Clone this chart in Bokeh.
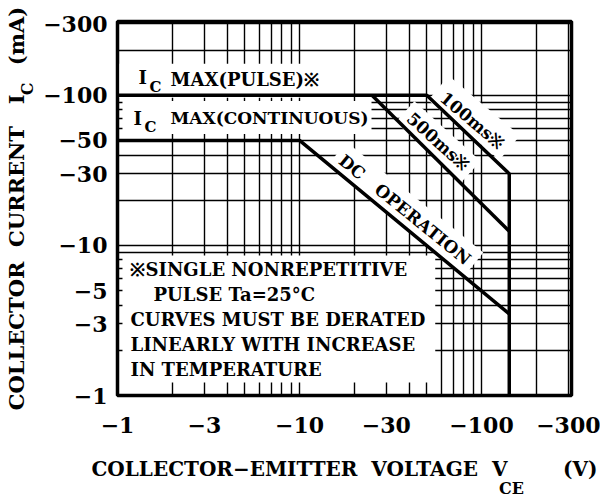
import math
from bokeh.plotting import figure
from bokeh.models import FixedTicker, Range1d, LogAxis
from bokeh.core.properties import value
from bokeh.embed import file_html
from bokeh.resources import INLINE

# ---------------- data ----------------
x_ticks = [1, 3, 10, 30, 100, 300]
x_tick_labels = ["−1", "−3", "−10", "−30", "−100", "−300"]
y_ticks = [1, 3, 5, 10, 30, 50, 100, 300]
y_tick_labels = ["−1", "−3", "−5", "−10", "−30", "−50", "−100", "−300"]
grid_x = [1, 2, 3, 4, 5, 6, 7, 8, 9, 10, 20, 30, 40, 50, 60, 70, 80, 90, 100, 200, 300]
grid_y = [1, 2, 3, 4, 5, 6, 7, 8, 9, 10, 20, 30, 40, 50, 60, 70, 80, 90, 100, 200, 300]

# safe operating area curves, |VCE| (V) vs |IC| (mA)
pulse100_v = [1, 50, 142, 142]
pulse100_i = [100, 100, 30, 1]
pulse500_v = [25, 142]
pulse500_i = [100, 12.4]
dc_v = [1, 10, 142]
dc_i = [50, 50, 3.5]

NB = "\u00a0"
x_title = "COLLECTOR−EMITTER" + NB * 2 + "VOLTAGE" + NB * 2 + "V" + NB * 8 + "(V)"
y_title = "COLLECTOR" + NB * 2 + "CURRENT" + NB * 3 + "I" + NB * 4 + "(mA)"
x_sub, x_sub_pos = "CE", 146.0
y_sub, y_sub_pos = "C", 121.7

FONT = "DejaVu Serif"

p = figure(width=600, height=500, x_axis_type="log", y_axis_type="log",
           x_range=Range1d(1, 312), y_range=Range1d(1, 310),
           output_backend="svg", toolbar_location=None,
           min_border_left=117, min_border_right=29,
           min_border_top=21, min_border_bottom=105)
p.background_fill_color = "white"
p.border_fill_color = "white"
p.outline_line_color = "black"
p.outline_line_width = 3.5

def style_axis(ax, size="22px"):
    ax.axis_line_color = None
    ax.major_tick_line_color = None
    ax.minor_tick_line_color = None
    ax.major_tick_in = 0
    ax.major_tick_out = 0
    ax.minor_tick_in = 0
    ax.minor_tick_out = 0
    ax.major_label_text_font = FONT
    ax.major_label_text_font_style = "bold"
    ax.major_label_text_font_size = size
    ax.major_label_text_color = "black"
    ax.axis_label_text_font = FONT
    ax.axis_label_text_font_style = "bold"
    ax.axis_label_text_color = "black"

for ax in (p.xaxis[0], p.yaxis[0]):
    style_axis(ax)

p.xaxis.ticker = FixedTicker(ticks=x_ticks)
p.xaxis.major_label_overrides = {t: l for t, l in zip(x_ticks, x_tick_labels)}
p.yaxis.ticker = FixedTicker(ticks=y_ticks)
p.yaxis.major_label_overrides = {t: l for t, l in zip(y_ticks, y_tick_labels)}
p.xaxis.major_label_standoff = 21
p.yaxis.major_label_standoff = 10
p.xaxis.axis_label = x_title
p.yaxis.axis_label = y_title
p.xaxis.axis_label_text_font_size = "20px"
p.yaxis.axis_label_text_font_size = "21px"
p.xaxis.axis_label_standoff = 21
p.yaxis.axis_label_standoff = 11

# subscript axes (only carry the subscript text)
xs = LogAxis(ticker=FixedTicker(ticks=[x_sub_pos]),
             major_label_overrides={x_sub_pos: x_sub},
             major_label_standoff=-5)
style_axis(xs, "16px")
p.add_layout(xs, "below")
ys = LogAxis(ticker=FixedTicker(ticks=[y_sub_pos]),
             major_label_overrides={y_sub_pos: y_sub},
             major_label_standoff=-26, major_label_orientation=math.pi / 2)
style_axis(ys, "16px")
p.add_layout(ys, "left")

p.xgrid.ticker = FixedTicker(ticks=grid_x)
p.ygrid.ticker = FixedTicker(ticks=grid_y)
for g in (p.xgrid, p.ygrid):
    g.grid_line_color = "black"
    g.grid_line_width = 1.4
    g.grid_line_alpha = 1.0

txt = dict(text_font=value(FONT), text_font_style="bold", text_color="black")

# ---- white-backed labels (drawn before the curves) ----
p.text(x=[1.026], y=[125.0], text=["MAX(PULSE)※"], text_font_size="18px",
       text_baseline="middle", text_align="left",
       background_fill_color="white",
       padding=dict(left=51, right=16, top=5, bottom=8), **txt)
p.text(x=[1.065], y=[71.2], text=["MAX(CONTINUOUS)"], text_font_size="17px",
       text_baseline="middle", text_align="left",
       background_fill_color="white",
       padding=dict(left=48, right=3, top=7, bottom=6), **txt)
p.text(x=[1.304], y=[130.4], text=["I"], text_font_size="18px",
       text_baseline="middle", **txt)
p.text(x=[1.499], y=[114.0], text=["C"], text_font_size="15px",
       text_baseline="middle", **txt)
p.text(x=[1.224], y=[70.1], text=["I"], text_font_size="18px",
       text_baseline="middle", **txt)
p.text(x=[1.407], y=[61.0], text=["C"], text_font_size="15px",
       text_baseline="middle", **txt)

note = "※SINGLE NONREPETITIVE\n \nCURVES MUST BE DERATED\nLINEARLY WITH INCREASE\nIN TEMPERATURE"
p.text(x=[1.065], y=[8.57], text=[note], text_font_size="18px",
       text_baseline="top", text_align="left", text_line_height=1.18,
       background_fill_color="white",
       padding=dict(left=8, right=10, top=4, bottom=3), **txt)
p.text(x=[1.577], y=[5.51], text=["PULSE Ta=25°C"], text_font_size="18px",
       text_baseline="top", text_align="left", **txt)

rot = dict(text_baseline="middle", text_align="center", angle_units="deg",
           background_fill_color="white", text_font_size="17px")
p.text(x=[91.0], y=[70.6], text=["100ms※"], angle=-40,
       padding=dict(left=8, right=8, top=9, bottom=3), **rot, **txt)
p.text(x=[57.7], y=[49.2], text=["500ms※"], angle=-42,
       padding=dict(left=6, right=6, top=4, bottom=4), **rot, **txt)
p.text(x=[38.2], y=[17.5], text=["DC" + NB * 3 + "OPERATION"], angle=-39,
       padding=dict(left=6, right=6, top=6, bottom=4), **rot, **txt)

# ---- curves ----
p.line(pulse100_v, pulse100_i, line_color="black", line_width=3.5)
p.line(pulse500_v, pulse500_i, line_color="black", line_width=3.5)
p.line(dc_v, dc_i, line_color="black", line_width=3.5)

open("out.html", "w").write(file_html(p, INLINE))
